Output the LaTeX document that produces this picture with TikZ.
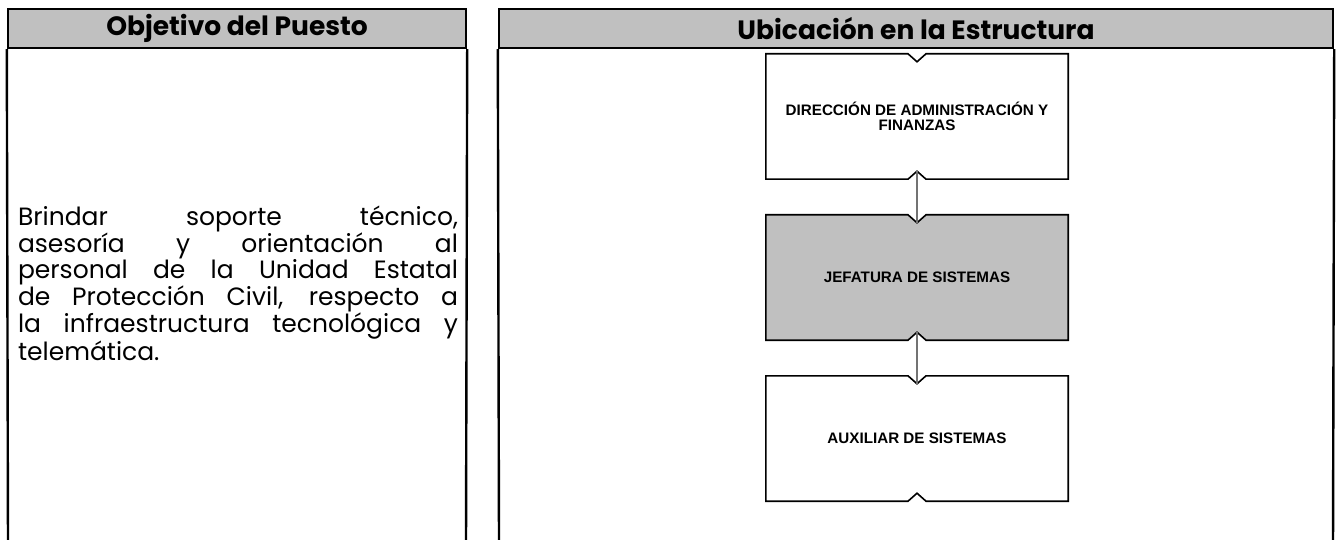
\documentclass[tikz,border=0pt]{standalone}
\usepackage{fontspec}
\setmainfont{Poppins}
\newfontfamily\arialfont{Liberation Sans}
\usetikzlibrary{positioning,backgrounds}
\definecolor{gris}{RGB}{192,192,192}
\definecolor{grislinea}{RGB}{115,115,115}

\begin{document}
\begin{tikzpicture}[
x=1pt,y=-1pt,
every node/.append style={inner sep=0pt},
titulo/.style={draw,fill=gris,line width=2.4pt,minimum height=39pt,font={\fontsize{26.5}{28}\selectfont\bfseries}},
marco/.style={line width=2.4pt},
cuerpo/.style={text width=440pt,align=justify,font={\fontsize{25}{26.2}\selectfont}},
puesto/.style={minimum width=302pt,minimum height=125pt,align=center,font={\arialfont\bfseries\fontsize{15.2}{15.5}\selectfont}},
contorno/.style={draw,line width=1.6pt},
enlace/.style={draw=grislinea,line width=2pt},
]
\useasboundingbox (0,0) rectangle (1338,540);

\node[titulo,minimum width=458pt] (objetivo) at (237,28.5) {Objetivo del Puesto};
\node[titulo,minimum width=834pt] (ubicacion) at (916,28.5) {Ubicación en la Estructura};
\draw[marco] (objetivo.south west) -- (8,545) (objetivo.south east) -- (466,545);
\draw[marco] (ubicacion.south west) -- (499,545) (ubicacion.south east) -- (1333,545);

\node[cuerpo] (objtexto) at (238,283) {Brindar soporte técnico,\linebreak
asesoría y orientación al\linebreak
personal de la Unidad Estatal\linebreak
de Protección Civil, respecto a\linebreak
la infraestructura tecnológica y\linebreak
telemática.};

\matrix[row sep=36pt] (org) at (917,277.5) {
\node[puesto] (dir) {DIRECCIÓN DE ADMINISTRACIÓN Y\\FINANZAS}; \\
\node[puesto] (jef) {JEFATURA DE SISTEMAS}; \\
\node[puesto] (aux) {AUXILIAR DE SISTEMAS}; \\
};

\begin{scope}[on background layer]
\foreach \n/\c in {dir/white,jef/gris,aux/white}
  \filldraw[contorno,fill=\c] (\n.north west) -- ([xshift=-9pt]\n.north) -- ([yshift=-8pt]\n.north)
    -- ([xshift=9pt]\n.north) -- (\n.north east) -- (\n.south east) -- ([xshift=9pt]\n.south)
    -- ([yshift=8pt]\n.south) -- ([xshift=-9pt]\n.south) -- (\n.south west) -- cycle;
\end{scope}

\draw[enlace] ([yshift=8pt]dir.south) -- ([yshift=-8pt]jef.north);
\draw[enlace] ([yshift=8pt]jef.south) -- ([yshift=-8pt]aux.north);

\end{tikzpicture}
\end{document}
